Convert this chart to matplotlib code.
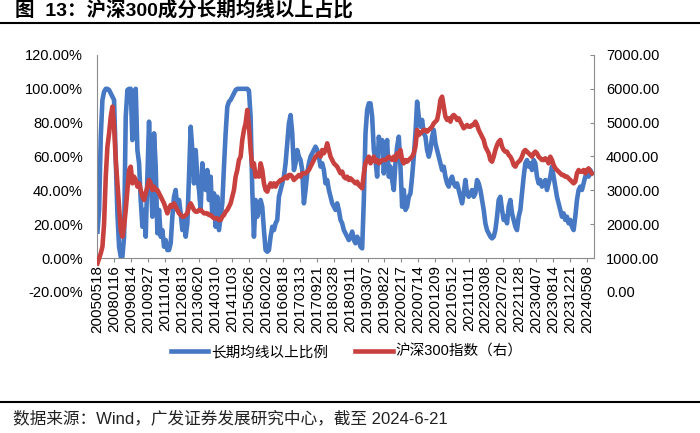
import numpy as np
import matplotlib
matplotlib.use('Agg')
import matplotlib.pyplot as plt
from matplotlib.lines import Line2D
from matplotlib.ticker import FuncFormatter

plt.rcParams['font.family'] = ['Liberation Sans', 'Noto Sans CJK SC']

# category labels shown on the x axis
date_labels = ['20050518', '20080116', '20090814', '20100927', '20111014', '20120813',
               '20130620', '20140310', '20141103', '20150626', '20160202', '20160818',
               '20170313', '20170921', '20180328', '20180911', '20190307', '20190822',
               '20200217', '20200714', '20201209', '20210512', '20211011', '20220308',
               '20220720', '20221128', '20230407', '20230814', '20231221', '20240508']

# share of CSI 300 members above long-term moving average (%)
ratio = [
    15.6, 28.4, 71.7, 93.4, 98.3, 100, 100, 99.3, 97.3, 95.4,
    93.4, 57.9, 26.4, 6.7, 0.8, 0.8, 12.6, 83.5, 99.3, 100,
    100, 69.7, 98.3, 100, 63.8, 56.0, 34.3, 18.5, 28.4, 12.6,
    48.1, 80.6, 48.1, 24.4, 73.7, 54.0, 14.6, 28.4, 12.6, 16.5,
    6.7, 10.6, 4.7, 4.7, 8.7, 24.4, 36.2, 40.2, 28.4, 34.3,
    26.4, 16.5, 24.4, 12.6, 20.5, 48.1, 77.6, 63.8, 44.1, 63.8,
    48.1, 40.2, 28.4, 56.0, 44.1, 40.2, 52.0, 34.3, 48.1, 24.4,
    38.2, 18.5, 36.2, 16.5, 24.4, 32.3, 54.0, 73.7, 89.4, 92.4,
    93.4, 95.4, 97.3, 99.3, 100, 100, 100, 100, 100, 100,
    100, 99.0, 83.5, 40.2, 12.6, 34.3, 24.4, 28.4,
    34.3, 30.3, 16.5, 4.7, 3.7, 4.7, 12.6, 18.5, 16.5, 20.5,
    22.5, 36.2, 40.2, 44.1, 48.1, 56.0, 67.8, 79.6, 84.5, 73.7,
    52.0, 56.0, 63.8, 59.9, 57.9, 52.0, 32.3, 40.2, 50.0, 56.0,
    59.9, 61.9, 63.8, 65.8, 63.8, 59.9, 54.0, 56.0, 52.0, 44.1,
    46.1, 40.2, 36.2, 32.3, 30.3, 28.4, 32.3, 28.4, 22.5, 20.5,
    16.5, 14.6, 12.6, 10.6, 12.6, 15.6, 10.6, 8.7, 12.6, 10.6,
    6.7, 5.7, 34.3, 73.7, 87.5, 91.4, 91.4, 83.5, 63.8, 57.9,
    48.1, 71.7, 63.8, 69.7, 50.0, 63.8, 69.7, 48.1, 54.0, 46.1,
    40.2, 56.0, 65.8, 71.7, 54.0, 30.3, 40.2, 28.4, 30.3, 36.2,
    38.2, 48.1, 59.9, 73.7, 92.4, 83.5, 77.6, 81.6, 73.7,
    71.7, 63.8, 59.9, 63.8, 71.7, 75.7, 67.8, 63.8, 59.9, 56.0,
    52.0, 54.0, 48.1, 44.1, 42.2, 46.1, 48.1, 44.1, 42.2, 44.1,
    40.2, 36.2, 32.3, 38.2, 46.1, 38.2, 36.2, 38.2, 40.2, 36.2,
    38.2, 46.1, 44.1, 40.2, 34.3, 28.4, 20.5, 16.5, 14.6, 12.6,
    11.6, 12.6, 16.5, 24.4, 34.3, 36.2, 28.4, 22.5, 24.4, 20.5,
    30.3, 34.3, 26.4, 22.5, 18.5, 16.5, 24.4, 28.4, 38.2, 48.1,
    56.0, 57.9, 54.0, 56.0, 52.0, 57.9, 56.0, 48.1, 44.1, 46.1,
    42.2, 44.1, 46.1, 40.2, 44.1, 48.1, 54.0, 48.1, 42.2, 36.2,
    32.3, 28.4, 24.4, 26.4, 22.5, 24.4, 20.5, 22.5, 18.5, 16.5,
    24.4, 34.3, 40.2, 42.2, 40.2, 44.1, 48.1, 50.0, 48.1, 52.0, 50.0,
]

# CSI 300 index level (right axis)
csi300 = [
    842, 990, 1138, 1335, 2025, 3404, 4291, 4685, 5178, 5473,
    4882, 3897, 3207, 2517, 1828, 1631, 1926, 2419, 3010, 3601,
    3700, 3207, 3404, 3306, 3109, 3207, 3010, 2813, 2714, 2911,
    3109, 3306, 3207, 3010, 3109, 3010, 3010, 2911, 2813, 2714,
    2616, 2468, 2320, 2468, 2567, 2517, 2616, 2517, 2419, 2320,
    2271, 2222, 2222, 2271, 2320, 2517, 2616, 2517, 2419, 2370,
    2370, 2419, 2419, 2370, 2320, 2320, 2320, 2271, 2271, 2222,
    2173, 2173, 2173, 2123, 2123, 2222, 2271, 2370, 2419, 2517,
    2616, 2813, 3010, 3404, 3601, 3897, 3995, 4488, 4784, 4981,
    5375, 4882, 4192, 3700, 3798, 3404, 3503, 3404,
    3798, 3601, 3207, 3010, 2961, 3109, 3207, 3109, 3207, 3109,
    3207, 3256, 3306, 3306, 3355, 3404, 3355, 3453, 3453, 3404,
    3306, 3355, 3404, 3453, 3404, 3503, 3503, 3503, 3552, 3601,
    3700, 3798, 3897, 3995, 4045, 4094, 3995, 4192, 4094, 4192,
    4389, 4192, 3995, 3897, 3798, 3749, 3700, 3601, 3503, 3552,
    3404, 3355, 3404, 3306, 3355, 3306, 3256, 3207, 3256, 3158,
    3109, 3059, 3503, 3798, 3897, 3995, 3798, 3897, 3995, 3848,
    3897, 3798, 3848, 3897, 3897, 3897, 3946, 3995, 3946, 3897,
    3995, 3897, 4094, 3995, 4192, 3897, 3798, 3897, 3848, 3897,
    3946, 3995, 4094, 4291, 4784, 4636, 4685, 4734, 4784,
    4784, 4734, 4784, 4833, 4882, 4981, 5030, 5079, 5325, 5670,
    5769, 5473, 5178, 5079, 5128, 5030, 5178, 5227, 5178, 5079,
    5128, 5030, 4931, 4833, 4882, 4931, 4882, 4882, 4931, 4931,
    5030, 4931, 4784, 4685, 4586, 4488, 4291, 4192, 4094, 3897,
    3848, 3995, 4192, 4340, 4439, 4488, 4291, 4192, 4143, 4143,
    4045, 3995, 3897, 3749, 3700, 3798, 3848, 3897, 3995, 4143,
    4192, 4143, 4094, 4045, 3995, 4094, 4143, 4094, 3995, 3946,
    3897, 3897, 3946, 3897, 3798, 3995, 3897, 3749, 3650, 3601,
    3552, 3503, 3453, 3453, 3404, 3404, 3355, 3306, 3256, 3207,
    3256, 3503, 3601, 3552, 3552, 3601, 3503, 3601, 3650, 3552, 3503,
]

blue = '#4678C3'
red = '#C8413F'
grey = '#8C8C8C'

x = np.arange(len(ratio))
tick_pos = np.linspace(0, len(ratio) - 4, len(date_labels))

fig = plt.figure(figsize=(7, 4.33), dpi=100)
ax = fig.add_axes([0.138, 0.326, 0.71, 0.547])
ax2 = ax.twinx()

ax.plot(x, ratio, color=blue, lw=3.3)
ax2.plot(x, csi300, color=red, lw=3.3)

# left axis (percent)
ax.set_xlim(-0.5, len(ratio))
ax.set_ylim(-20, 120)
ax.set_yticks(np.arange(-20, 121, 20))
ax.yaxis.set_major_formatter(FuncFormatter(lambda v, p: f'{v:.2f}%'))
ax.tick_params(axis='y', length=0, pad=10, labelsize=10.5)

# x axis sits on the 0% line
ax.spines['bottom'].set_position(('data', 0))
ax.set_xticks(tick_pos)
ax.set_xticklabels(date_labels, rotation=90)
ax.tick_params(axis='x', length=3, color=grey, pad=2, labelsize=11)

for s in ['top', 'right']:
    ax.spines[s].set_visible(False)
ax.spines['left'].set_bounds(0, 120)
ax.spines['left'].set_color(grey)
ax.spines['bottom'].set_color(grey)

# right axis (index)
ax2.set_ylim(0, 7000)
ax2.set_yticks(np.arange(0, 7001, 1000))
ax2.yaxis.set_major_formatter(FuncFormatter(lambda v, p: f'{v:.2f}'))
ax2.tick_params(axis='y', length=3, direction='in', color=grey, pad=9, labelsize=10.5)
ax2.yaxis.get_major_ticks()[0].tick2line.set_visible(False)
for s in ['top', 'left', 'bottom']:
    ax2.spines[s].set_visible(False)
ax2.spines['right'].set_bounds(1000, 7000)
ax2.spines['right'].set_color(grey)

handles = [Line2D([], [], color=blue, lw=3.3), Line2D([], [], color=red, lw=3.3)]
fig.legend(handles, ['长期均线以上比例', '沪深300指数（右）'], loc='center',
           bbox_to_anchor=(0.495, 0.187), ncol=2, frameon=False, fontsize=10.5,
           handlelength=2.6, handletextpad=0.2, columnspacing=1.8)

fig.text(0.021, 0.977, '图  13：沪深300成分长期均线以上占比', fontsize=14,
         fontweight='bold', ha='left', va='center')
fig.add_artist(Line2D([0, 1], [0.948, 0.948], color='black', lw=1.5))
fig.add_artist(Line2D([0, 1], [0.0727, 0.0727], color='black', lw=1.5))
fig.text(0.0186, 0.0346, '数据来源：Wind，广发证券发展研究中心，截至 2024-6-21',
         fontsize=12, ha='left', va='center', color='#222222')

fig.savefig('out.png', dpi=100)
